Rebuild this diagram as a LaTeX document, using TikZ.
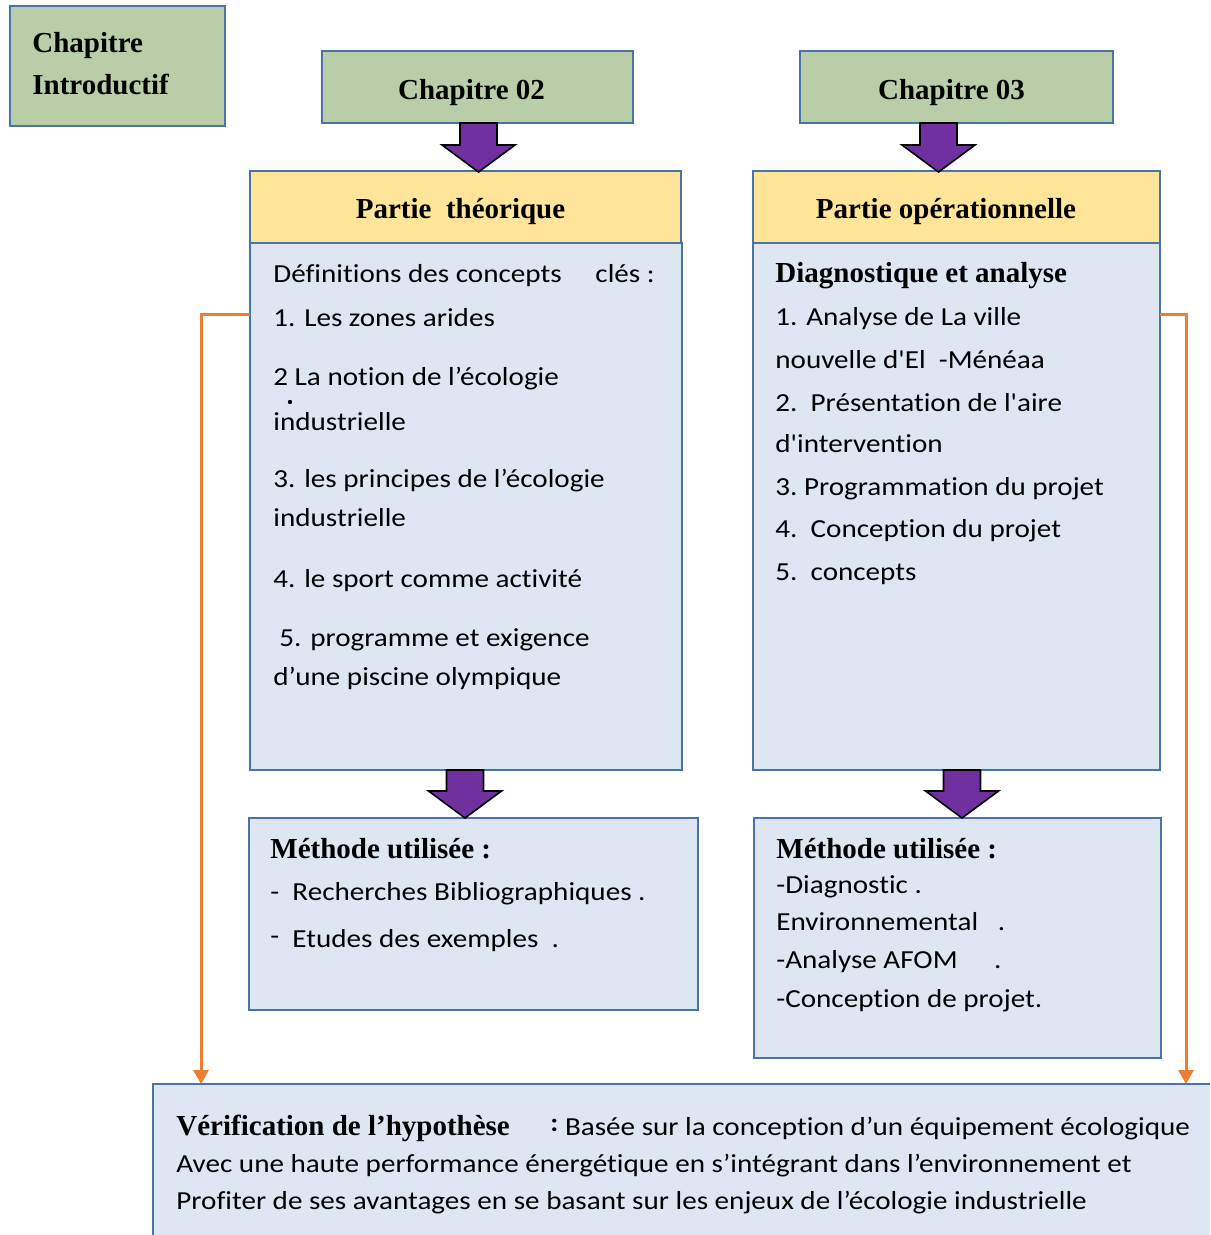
\documentclass[tikz,border=0pt]{standalone}
\usepackage{fontspec}
\setmainfont{Liberation Serif}
\newfontfamily\calib[FakeStretch=1.12,Ligatures=NoCommon]{Carlito}
\usetikzlibrary{arrows.meta,calc}

\definecolor{chapgreen}{RGB}{185,205,168}
\definecolor{boxblue}{RGB}{72,116,168}
\definecolor{partyellow}{RGB}{255,229,153}
\definecolor{bodyblue}{RGB}{222,230,242}
\definecolor{linkorange}{RGB}{237,125,49}
\definecolor{arrowpurple}{RGB}{112,48,160}

\tikzset{
  chapbox/.style={draw=boxblue,fill=chapgreen,line width=1.2pt,inner sep=0pt,outer sep=0pt,anchor=north west},
  partbox/.style={chapbox,fill=partyellow},
  bodybox/.style={chapbox,fill=bodyblue},
  title/.style={font=\bfseries\fontsize{14.5}{17}\selectfont,inner sep=0pt,anchor=base},
  bold/.style={title,anchor=base west},
  item/.style={font=\calib\fontsize{13}{15}\selectfont,inner sep=0pt,anchor=base west},
  blockarrow/.style={fill=arrowpurple,draw=black,line width=0.8pt,line join=miter},
  link/.style={draw=linkorange,line width=1.5pt,-{Triangle[width=7.5pt,length=7pt]}},
}

\begin{document}
\begin{tikzpicture}[x=0.5pt,y=-0.5pt]
\useasboundingbox (0,0) rectangle (1210,1235);
\clip (0,0) rectangle (1210,1235);

% boxes
\node[chapbox,minimum width=107.5pt,minimum height=60pt] (intro) at (10,6) {};
\node[chapbox,minimum width=155.5pt,minimum height=36pt] (ch2) at (322,51) {};
\node[chapbox,minimum width=156.5pt,minimum height=36pt] (ch3) at (800,51) {};
\node[bodybox,minimum width=216pt,minimum height=263.5pt] (tbody) at (250,243) {};
\node[partbox,minimum width=215.5pt,minimum height=36pt] (theo) at (250,171) {};
\node[bodybox,minimum width=203.5pt,minimum height=263.5pt] (obody) at (753,243) {};
\node[partbox,minimum width=203.5pt,minimum height=36pt] (oper) at (753,171) {};
\node[bodybox,minimum width=224.5pt,minimum height=96pt] (tmeth) at (249,818) {};
\node[bodybox,minimum width=203.5pt,minimum height=120pt] (ometh) at (754,818) {};
\node[bodybox,minimum width=543.5pt,minimum height=88pt] (hypo) at (153,1084) {};

% titles
\node[bold] (introa) at (32,53) {Chapitre};
\node[bold] (introb) at (32,95) {Introductif};
\node[title] (ch2t) at (471.5,100) {Chapitre 02};
\node[title] (ch3t) at (951.5,100) {Chapitre 03};
\node[title] (theot) at (460.5,219) {Partie\ \ théorique};
\node[title] (opert) at (946,219) {Partie opérationnelle};

% partie theorique
\node[item] (def) at (273,283) {Définitions des concepts\hspace{1.3em}clés :};
\node[item] (ta) at (273,327) {1. Les zones arides};
\node[item] (tb) at (273,385) {2 La notion de l’écologie};
\node[circle,fill=black,inner sep=0pt,minimum size=2.2pt] (tbdot) at (290,402) {};
\node[item] (tbb) at (273,430) {industrielle};
\node[item] (tc) at (273,487) {3. les principes de l’écologie};
\node[item] (tcc) at (273,526) {industrielle};
\node[item] (td) at (273,587) {4. le sport comme activité};
\node[item] (te) at (279,646) {5. programme et exigence};
\node[item] (tee) at (273,685) {d’une piscine olympique};

% partie operationnelle
\node[bold] (diag) at (775,283) {Diagnostique et analyse};
\node[item] (oa) at (775,326) {1. Analyse de La ville};
\node[item] (oaa) at (775,368) {nouvelle d'El\ \ -Ménéaa};
\node[item] (ob) at (775,411) {2.\ \ Présentation de l'aire};
\node[item] (obb) at (775,452) {d'intervention};
\node[item] (oc) at (775,495) {3.\ Programmation du projet};
\node[item] (od) at (775,537) {4.\ \ Conception du projet};
\node[item] (oe) at (775,580) {5.\ \ concepts};

% methodes
\node[bold] (tm) at (270,858) {Méthode utilisée :};
\node[item] (tma) at (270,900) {-\ \ Recherches Bibliographiques .};
\node[item] (tmb) at (270,947) {\raisebox{1.5pt}{-}\ \ Etudes des exemples\ \ .};
\node[bold] (om) at (776,858) {Méthode utilisée :};
\node[item] (oma) at (776,893) {-Diagnostic .};
\node[item] (omb) at (776,930) {Environnemental\ \ \ .};
\node[item] (omc) at (776,968) {-Analyse AFOM\hspace{1.4em}.};
\node[item] (omd) at (776,1007) {-Conception de projet.};

% hypothese
\node[bold] (hyp) at (176,1135) {Vérification de l’hypothèse};
\node[item] (hypa) at (550,1135) {\raisebox{2pt}{\bfseries :}\ Basée sur la conception d’un équipement écologique};
\node[item] (hypb) at (176,1172) {Avec une haute performance énergétique en s’intégrant dans l’environnement et};
\node[item] (hypc) at (176,1209) {Profiter de ses avantages en se basant sur les enjeux de l’écologie industrielle};

% block arrows
\filldraw[blockarrow] ($(ch2.south)+(-17.5,0)$) -- ++(37,0) -- ++(0,22) -- ++(18,0) -- ++(-36.5,27) -- ++(-36.5,-27) -- ++(18,0) -- cycle;
\filldraw[blockarrow] ($(ch3.south)+(-36.5,0)$) -- ++(37,0) -- ++(0,22) -- ++(18,0) -- ++(-36.5,27) -- ++(-36.5,-27) -- ++(18,0) -- cycle;
\filldraw[blockarrow] ($(tbody.south)+(-19.5,0)$) -- ++(37,0) -- ++(0,21) -- ++(18,0) -- ++(-36.5,27) -- ++(-36.5,-27) -- ++(18,0) -- cycle;
\filldraw[blockarrow] ($(obody.south)+(-13,0)$) -- ++(37,0) -- ++(0,21) -- ++(18,0) -- ++(-36.5,27) -- ++(-36.5,-27) -- ++(18,0) -- cycle;

% orange links
\draw[link] ($(tbody.north west)+(0,72)$) -| ($(hypo.north west)+(48,0)$);
\draw[link] ($(obody.north east)+(0,72)$) -| ($(hypo.north west)+(1033,0)$);
\end{tikzpicture}
\end{document}
